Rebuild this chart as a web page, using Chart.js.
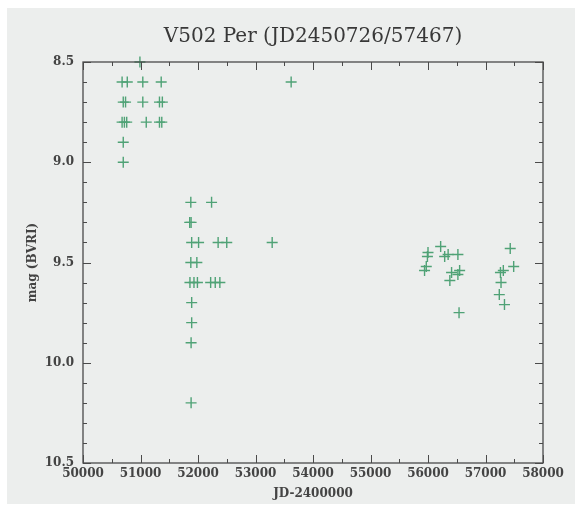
<!DOCTYPE html>
<html>
<head>
<meta charset="utf-8">
<script src="https://cdn.jsdelivr.net/npm/chart.js@4"></script>
<style>
html,body{margin:0;padding:0;background:#ffffff;}
#wrap{width:575px;height:506px;position:relative;}
canvas{display:block;}
</style>
</head>
<body>
<div id="wrap"><canvas id="c" width="575" height="506"></canvas></div>
<script>
// ---- data ----
const jd = [
  50680, 50770, 51040, 51360,
  50700, 50740, 51040, 51330, 51380,
  50680, 50720, 50760, 51100, 51330, 51370,
  50700, 50700,
  50990,
  53620,
  51875, 52236,
  51856, 51880,
  51890, 52010, 52350, 52500, 53290,
  51875, 51980,
  51860, 51930, 51990, 52220, 52300, 52380,
  51890, 51890, 51880, 51880,
  56220, 56000, 55990, 55970, 55940,
  56290, 56350, 56520,
  56410, 56550, 56380, 56520, 56540,
  57430, 57490, 57310, 57260, 57270, 57240, 57330
];
const mag = [
  8.6, 8.6, 8.6, 8.6,
  8.7, 8.7, 8.7, 8.7, 8.7,
  8.8, 8.8, 8.8, 8.8, 8.8, 8.8,
  8.9, 9.0,
  8.5,
  8.6,
  9.2, 9.2,
  9.3, 9.3,
  9.4, 9.4, 9.4, 9.4, 9.4,
  9.5, 9.5,
  9.6, 9.6, 9.6, 9.6, 9.6, 9.6,
  9.7, 9.8, 9.9, 10.2,
  9.42, 9.45, 9.47, 9.52, 9.54,
  9.47, 9.46, 9.46,
  9.55, 9.54, 9.59, 9.56, 9.75,
  9.43, 9.52, 9.54, 9.55, 9.60, 9.66, 9.71
];
const xTickValues = [50000, 51000, 52000, 53000, 54000, 55000, 56000, 57000, 58000];
const xTickLabels = ['50000','51000','52000','53000','54000','55000','56000','57000','58000'];
const yTickValues = [8.5, 9.0, 9.5, 10.0, 10.5];
const yTickLabels = ['8.5','9.0','9.5','10.0','10.5'];
const titleText = 'V502 Per (JD2450726/57467)';
const xTitle = 'JD-2400000';
const yTitle = 'mag (BVRI)';

const points = jd.map((x, i) => ({x: x, y: mag[i]}));

function labelFor(values, labels, v) {
  let best = 0;
  for (let i = 1; i < values.length; i++) {
    if (Math.abs(values[i] - v) < Math.abs(values[best] - v)) best = i;
  }
  return labels[best];
}

const FONT = '"DejaVu Serif", "Liberation Serif", serif';
const TXT = '#444444';
const FRAME = '#4a4a4a';

const bgPlugin = {
  id: 'paper',
  beforeDraw(chart) {
    const ctx = chart.ctx;
    ctx.save();
    ctx.fillStyle = '#ffffff';
    ctx.fillRect(0, 0, chart.width, chart.height);
    ctx.fillStyle = '#eceeed';
    ctx.fillRect(7, 8, chart.width - 7, chart.height - 10);
    ctx.restore();
  }
};

const framePlugin = {
  id: 'frame',
  afterDatasetsDraw(chart) {
    const ctx = chart.ctx;
    const a = chart.chartArea;
    const xs = chart.scales.x, ys = chart.scales.y;
    ctx.save();
    ctx.strokeStyle = FRAME;
    ctx.lineWidth = 1.3;
    ctx.strokeRect(a.left, a.top, a.right - a.left, a.bottom - a.top);
    ctx.lineWidth = 1;
    ctx.beginPath();
    for (let v = xs.min; v <= xs.max + 1e-6; v += 500) {
      const px = Math.round(xs.getPixelForValue(v)) + 0.5;
      const L = (Math.round(v) % 1000 === 0) ? 8 : 4;
      ctx.moveTo(px, a.bottom); ctx.lineTo(px, a.bottom - L);
      ctx.moveTo(px, a.top); ctx.lineTo(px, a.top + L);
    }
    for (let k = 0; k <= 20; k++) {
      const v = ys.min + k * 0.1;
      const py = Math.round(ys.getPixelForValue(v)) + 0.5;
      const L = (k % 5 === 0) ? 8 : 4;
      ctx.moveTo(a.left, py); ctx.lineTo(a.left + L, py);
      ctx.moveTo(a.right, py); ctx.lineTo(a.right - L, py);
    }
    ctx.stroke();
    ctx.restore();
  }
};

new Chart(document.getElementById('c'), {
  type: 'scatter',
  data: {
    datasets: [{
      data: points,
      pointStyle: 'cross',
      pointRadius: 5.5,
      pointHoverRadius: 5.5,
      pointBorderWidth: 1.4,
      borderColor: '#4fa276',
      backgroundColor: '#4fa276',
      clip: false
    }]
  },
  options: {
    responsive: false,
    animation: false,
    events: [],
    layout: { padding: { left: 0, right: 32, top: 8, bottom: 0 } },
    plugins: {
      legend: { display: false },
      tooltip: { enabled: false },
      title: {
        display: true,
        fullSize: false,
        text: titleText,
        color: '#383838',
        font: { family: FONT, size: 20, weight: 'normal' },
        padding: { top: 17, bottom: 13 }
      }
    },
    scales: {
      x: {
        type: 'linear',
        min: 50000, max: 58000,
        grid: { display: false, drawTicks: false },
        border: { display: false },
        ticks: {
          stepSize: 1000,
          maxRotation: 0,
          autoSkip: false,
          padding: 4,
          color: TXT,
          font: { family: FONT, size: 12, weight: 'bold' },
          callback: (v) => labelFor(xTickValues, xTickLabels, v)
        },
        title: {
          display: true, text: xTitle, color: TXT,
          font: { family: FONT, size: 12, weight: 'bold' },
          padding: { top: 0, bottom: 5 }
        },
        afterFit(s) { s.height = 43; s.paddingLeft = 0; s.paddingRight = 0; }
      },
      y: {
        type: 'linear',
        reverse: true,
        min: 8.5, max: 10.5,
        grid: { display: false, drawTicks: false },
        border: { display: false },
        ticks: {
          stepSize: 0.5,
          autoSkip: false,
          padding: 9,
          color: TXT,
          font: { family: FONT, size: 12, weight: 'bold' },
          callback: (v) => labelFor(yTickValues, yTickLabels, v)
        },
        title: {
          display: true, text: yTitle, color: TXT,
          font: { family: FONT, size: 12, weight: 'bold' },
          padding: { top: 26, bottom: 0 }
        },
        afterFit(s) { s.width = 83; s.paddingTop = 0; s.paddingBottom = 0; }
      }
    }
  },
  plugins: [bgPlugin, framePlugin]
});
</script>
</body>
</html>
